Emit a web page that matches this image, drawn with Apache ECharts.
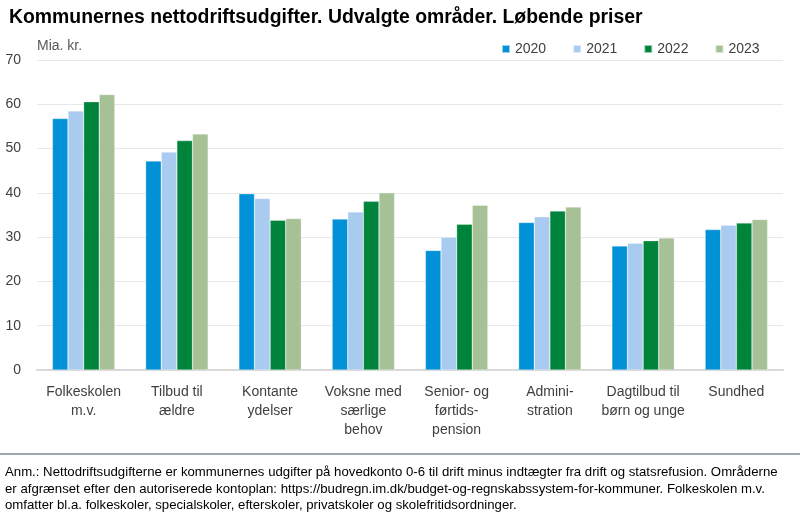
<!DOCTYPE html>
<html>
<head>
<meta charset="utf-8">
<script src="https://cdn.jsdelivr.net/npm/echarts@6/dist/echarts.min.js"></script>
<style>
  html, body { margin: 0; padding: 0; background: #fff; }
  #chart { width: 800px; height: 512px; }
</style>
</head>
<body>
<div id="chart"></div>
<script>
var categories = ['Folkeskolen\nm.v.', 'Tilbud til\nældre', 'Kontante\nydelser', 'Voksne med\nsærlige\nbehov',
    'Senior- og\nførtids-\npension', 'Admini-\nstration', 'Dagtilbud til\nbørn og unge', 'Sundhed'];
var years = ['2020', '2021', '2022', '2023'];
var v2020 = [56.8, 47.2, 39.8, 34.1, 27.0, 33.3, 28.0, 31.7];
var v2021 = [58.5, 49.2, 38.7, 35.7, 30.0, 34.6, 28.6, 32.7];
var v2022 = [60.6, 51.8, 33.8, 38.1, 32.9, 35.9, 29.2, 33.2];
var v2023 = [62.2, 53.3, 34.2, 40.0, 37.2, 36.8, 29.8, 34.0];
var colors = ['#0091d6', '#a8cbef', '#00843b', '#a6c196'];

var fontFam = 'Liberation Sans, Arial, sans-serif';
var note = 'Anm.: Nettodriftsudgifterne er kommunernes udgifter på hovedkonto 0-6 til drift minus indtægter fra drift og statsrefusion. Områderne\n' +
    'er afgrænset efter den autoriserede kontoplan: https://budregn.im.dk/budget-og-regnskabssystem-for-kommuner. Folkeskolen m.v.\n' +
    'omfatter bl.a. folkeskoler, specialskoler, efterskoler, privatskoler og skolefritidsordninger.';

var chart = echarts.init(document.getElementById('chart'));

var seriesData = [v2020, v2021, v2022, v2023];
var series = [];
for (var i = 0; i < years.length; i++) {
    series.push({
        name: years[i],
        type: 'bar',
        data: seriesData[i],
        barGap: '0%',
        barCategoryGap: '33%',
        itemStyle: { color: colors[i], borderColor: 'rgba(255,255,255,0.6)', borderWidth: 0.5 }
    });
}

var option = {
    animation: false,
    textStyle: { fontFamily: fontFam },
    title: {
        text: 'Kommunernes nettodriftsudgifter. Udvalgte områder. Løbende priser',
        left: 4,
        top: 3,
        textStyle: { fontSize: 19.4, fontWeight: 'bold', color: '#000', fontFamily: fontFam }
    },
    legend: {
        data: years,
        left: 496,
        top: 37,
        icon: 'rect',
        itemWidth: 8,
        itemHeight: 8,
        itemGap: 26,
        textStyle: { fontSize: 14, color: '#404040', fontFamily: fontFam }
    },
    grid: { left: 37, right: 17, top: 60, bottom: 142 },
    xAxis: {
        type: 'category',
        data: categories,
        axisLine: { lineStyle: { color: '#d9d9d9', width: 2 } },
        axisTick: { show: false },
        axisLabel: {
            interval: 0,
            margin: 13,
            fontSize: 14,
            lineHeight: 19,
            color: '#404040',
            fontFamily: fontFam
        }
    },
    yAxis: {
        type: 'value',
        min: 0,
        max: 70,
        interval: 10,
        axisLine: { show: false },
        axisTick: { show: false },
        axisLabel: { fontSize: 14, color: '#404040', margin: 16, fontFamily: fontFam },
        splitLine: { lineStyle: { color: '#e8e8e8', width: 1 } }
    },
    graphic: [
        {
            type: 'text',
            left: 37,
            top: 39,
            style: { text: 'Mia. kr.', fontSize: 14, fill: '#595959', fontFamily: fontFam }
        },
        {
            type: 'line',
            shape: { x1: 0, y1: 454, x2: 800, y2: 454 },
            style: { stroke: '#7a8b96', lineWidth: 1.5 }
        },
        {
            type: 'text',
            left: 5,
            top: 464,
            style: { text: note, fontSize: 13.2, lineHeight: 16.7, fill: '#000', fontFamily: fontFam }
        }
    ],
    series: series
};

chart.setOption(option);
</script>
</body>
</html>
